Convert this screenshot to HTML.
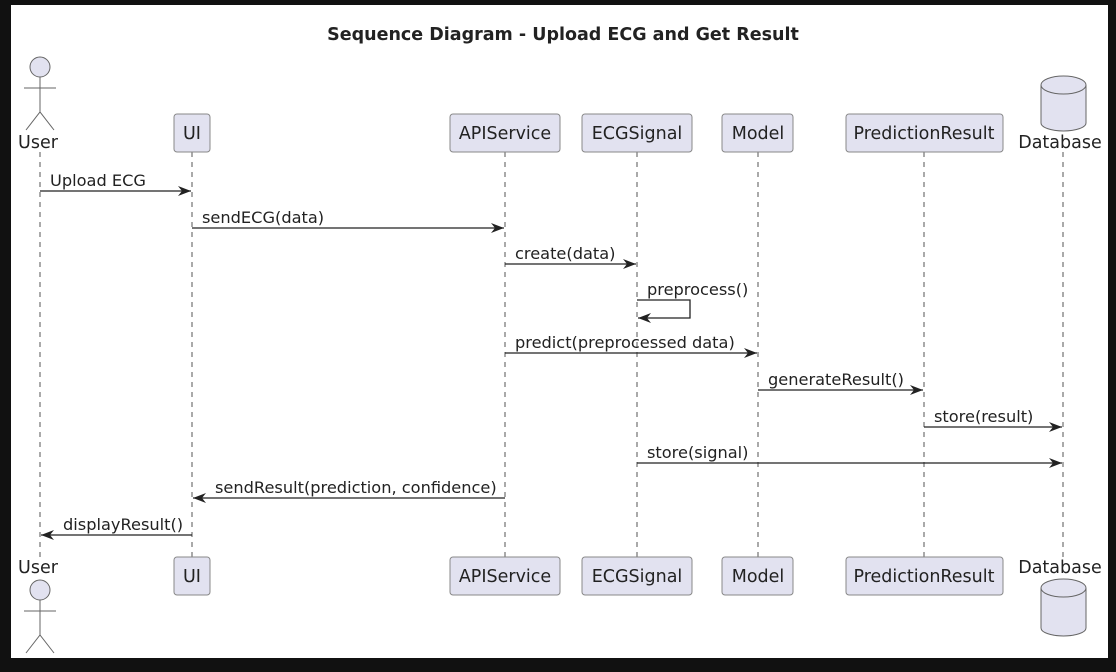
<!DOCTYPE html>
<html><head><style>
html,body{margin:0;padding:0;background:#111;}
svg{display:block;}
text{font-family:"DejaVu Sans",sans-serif;fill:#222;}
</style></head><body>
<svg width="1116" height="672" viewBox="0 0 1116 672">
<rect x="0" y="0" width="1116" height="672" fill="#111"/>
<rect x="11" y="5" width="1097" height="653" fill="#fff"/>
<text x="563" y="40" font-size="17.5" font-weight="bold" text-anchor="middle">Sequence Diagram - Upload ECG and Get Result</text>
<defs><marker id="a" markerWidth="14" markerHeight="10" refX="13" refY="5" orient="auto" markerUnits="userSpaceOnUse"><path d="M0,0 L13,5 L0,10 L4,5 Z" fill="#222"/></marker></defs>
<g stroke="#555" stroke-width="1" stroke-dasharray="5,5">
<line x1="40" y1="152" x2="40" y2="557"/>
<line x1="192" y1="152" x2="192" y2="557"/>
<line x1="505" y1="152" x2="505" y2="557"/>
<line x1="637" y1="152" x2="637" y2="557"/>
<line x1="758" y1="152" x2="758" y2="557"/>
<line x1="924" y1="152" x2="924" y2="557"/>
<line x1="1063" y1="152" x2="1063" y2="557"/>
</g>
<g fill="#e2e2f0" stroke="#888" stroke-width="1">
<rect x="174" y="114" width="36" height="38" rx="3"/>
<rect x="450" y="114" width="110" height="38" rx="3"/>
<rect x="582" y="114" width="110" height="38" rx="3"/>
<rect x="722" y="114" width="71" height="38" rx="3"/>
<rect x="846" y="114" width="157" height="38" rx="3"/>
<rect x="174" y="557" width="36" height="38" rx="3"/>
<rect x="450" y="557" width="110" height="38" rx="3"/>
<rect x="582" y="557" width="110" height="38" rx="3"/>
<rect x="722" y="557" width="71" height="38" rx="3"/>
<rect x="846" y="557" width="157" height="38" rx="3"/>
</g>
<g font-size="17.5" text-anchor="middle">
<text x="192" y="139">UI</text><text x="505" y="139">APIService</text><text x="637" y="139">ECGSignal</text><text x="758" y="139">Model</text><text x="924" y="139">PredictionResult</text>
<text x="192" y="582">UI</text><text x="505" y="582">APIService</text><text x="637" y="582">ECGSignal</text><text x="758" y="582">Model</text><text x="924" y="582">PredictionResult</text>
<text x="38" y="148">User</text><text x="1060" y="148">Database</text>
<text x="38" y="573">User</text><text x="1060" y="573">Database</text>
</g>
<g fill="#e2e2f0" stroke="#666" stroke-width="1">
<circle cx="40" cy="67" r="10"/>
<circle cx="40" cy="590" r="10"/>
</g>
<g stroke="#666" stroke-width="1" fill="none">
<path d="M40,77 V112 M24,88 H56 M26,130 L40,112 L54,130"/>
<path d="M40,600 V635 M24,611 H56 M26,653 L40,635 L54,653"/>
<path d="M1041,85 V123 A22.5,8 0 0 0 1086,123 V85" fill="#e2e2f0"/>
<ellipse cx="1063.5" cy="85" rx="22.5" ry="9" fill="#e2e2f0"/>
<path d="M1041,588 V628 A22.5,8 0 0 0 1086,628 V588" fill="#e2e2f0"/>
<ellipse cx="1063.5" cy="588" rx="22.5" ry="9" fill="#e2e2f0"/>
</g>
<g stroke="#222" stroke-width="1.3" fill="none" marker-end="url(#a)">
<line x1="40" y1="191" x2="191" y2="191"/>
<line x1="192" y1="228" x2="504" y2="228"/>
<line x1="505" y1="264" x2="636" y2="264"/>
<path d="M637,300 H690 V318 H638"/>
<line x1="505" y1="353" x2="757" y2="353"/>
<line x1="758" y1="390" x2="923" y2="390"/>
<line x1="924" y1="427" x2="1062" y2="427"/>
<line x1="637" y1="463" x2="1062" y2="463"/>
<line x1="505" y1="498" x2="193" y2="498"/>
<line x1="192" y1="535" x2="41" y2="535"/>
</g>
<g font-size="16.2">
<text x="50" y="186">Upload ECG</text>
<text x="202" y="223">sendECG(data)</text>
<text x="515" y="259">create(data)</text>
<text x="647" y="295">preprocess()</text>
<text x="515" y="348">predict(preprocessed data)</text>
<text x="768" y="385">generateResult()</text>
<text x="934" y="422">store(result)</text>
<text x="647" y="458">store(signal)</text>
<text x="215" y="493">sendResult(prediction, confidence)</text>
<text x="63" y="530">displayResult()</text>
</g>
</svg>
</body></html>
